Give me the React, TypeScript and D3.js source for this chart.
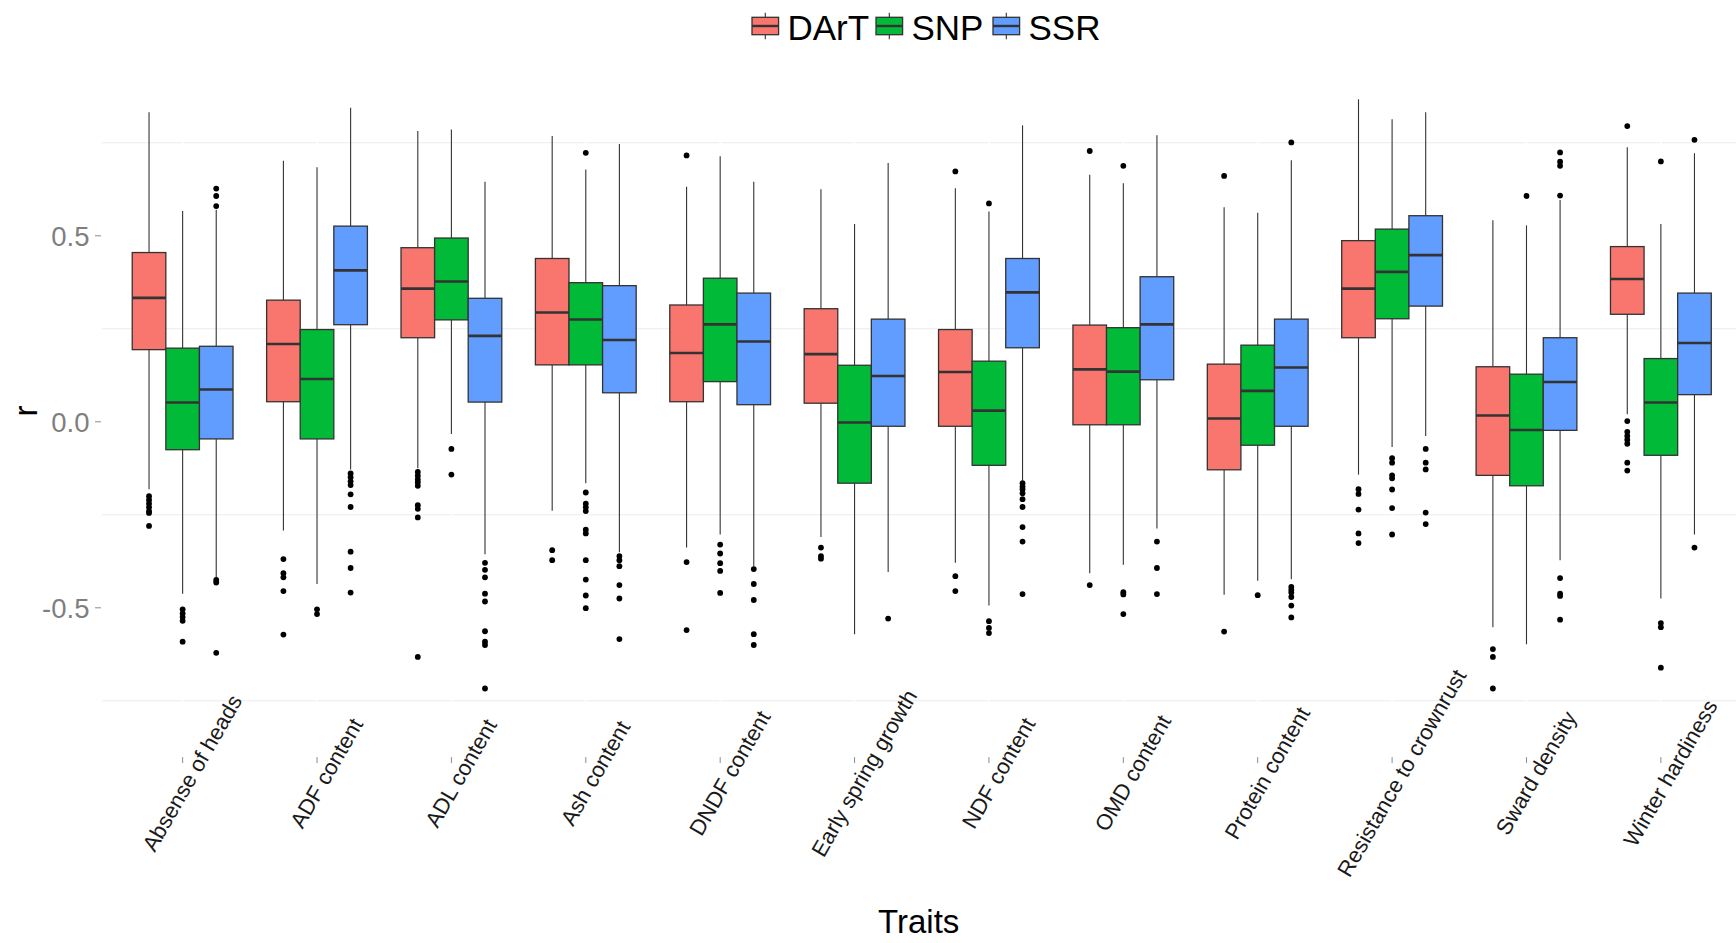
import React from 'react';
import * as d3 from 'd3';

const traits = [
  'Absense of heads', 'ADF content', 'ADL content', 'Ash content', 'DNDF content',
  'Early spring growth', 'NDF content', 'OMD content', 'Protein content',
  'Resistance to crownrust', 'Sward density', 'Winter hardiness',
];
const seriesNames = ['DArT', 'SNP', 'SSR'];
const seriesColors = ['#F8766D', '#00BA38', '#619CFF'];

// [lower whisker, Q1, median, Q3, upper whisker] per trait
const dartStats = [
  [-0.181, 0.194, 0.333, 0.455, 0.832],
  [-0.292, 0.054, 0.209, 0.327, 0.702],
  [-0.125, 0.226, 0.358, 0.468, 0.782],
  [-0.239, 0.153, 0.294, 0.439, 0.768],
  [-0.338, 0.054, 0.185, 0.314, 0.632],
  [-0.31, 0.05, 0.182, 0.304, 0.625],
  [-0.379, -0.012, 0.134, 0.248, 0.628],
  [-0.407, -0.008, 0.141, 0.26, 0.664],
  [-0.465, -0.129, 0.009, 0.155, 0.577],
  [-0.142, 0.226, 0.358, 0.487, 0.867],
  [-0.552, -0.144, 0.017, 0.148, 0.542],
  [0.02, 0.289, 0.384, 0.471, 0.738],
];
const snpStats = [
  [-0.462, -0.075, 0.052, 0.198, 0.567],
  [-0.436, -0.046, 0.115, 0.248, 0.684],
  [-0.033, 0.274, 0.377, 0.494, 0.786],
  [-0.165, 0.153, 0.275, 0.374, 0.678],
  [-0.303, 0.108, 0.262, 0.386, 0.714],
  [-0.571, -0.165, -0.002, 0.152, 0.532],
  [-0.494, -0.117, 0.03, 0.163, 0.565],
  [-0.384, -0.008, 0.135, 0.253, 0.641],
  [-0.427, -0.063, 0.083, 0.206, 0.562],
  [-0.068, 0.277, 0.403, 0.518, 0.813],
  [-0.598, -0.172, -0.022, 0.128, 0.528],
  [-0.475, -0.09, 0.052, 0.17, 0.532],
];
const ssrStats = [
  [-0.42, -0.046, 0.087, 0.203, 0.57],
  [-0.128, 0.261, 0.407, 0.526, 0.844],
  [-0.356, 0.053, 0.231, 0.332, 0.645],
  [-0.351, 0.078, 0.22, 0.366, 0.747],
  [-0.388, 0.046, 0.216, 0.346, 0.645],
  [-0.404, -0.012, 0.123, 0.276, 0.696],
  [-0.158, 0.199, 0.348, 0.439, 0.797],
  [-0.287, 0.113, 0.262, 0.39, 0.77],
  [-0.423, -0.012, 0.146, 0.276, 0.703],
  [-0.038, 0.311, 0.448, 0.554, 0.832],
  [-0.372, -0.023, 0.107, 0.226, 0.596],
  [-0.303, 0.073, 0.212, 0.346, 0.722],
];

const dartOutliers = [
  [-0.2, -0.21, -0.22, -0.23, -0.24, -0.245, -0.28],
  [-0.369, -0.407, -0.418, -0.455, -0.572],
  [-0.135, -0.145, -0.155, -0.163, -0.172, -0.224, -0.234, -0.257, -0.632],
  [-0.345, -0.372],
  [0.716, -0.377, -0.56],
  [-0.338, -0.361, -0.368],
  [0.673, -0.415, -0.455],
  [0.728, -0.439],
  [0.661, -0.564],
  [-0.181, -0.194, -0.236, -0.3, -0.326],
  [-0.611, -0.632, -0.717],
  [0.795, 0.002, -0.027, -0.038, -0.048, -0.059, -0.11, -0.131],
];
const snpOutliers = [
  [-0.504, -0.515, -0.525, -0.535, -0.591],
  [-0.504, -0.517],
  [-0.073, -0.142],
  [0.723, -0.19, -0.22, -0.23, -0.24, -0.29, -0.3, -0.372, -0.424, -0.467, -0.501],
  [-0.33, -0.354, -0.38, -0.401, -0.46],
  [],
  [0.587, -0.536, -0.554, -0.568],
  [0.688, -0.458, -0.464, -0.517],
  [-0.466],
  [-0.098, -0.11, -0.144, -0.152, -0.182, -0.232, -0.303],
  [0.607],
  [0.7, -0.541, -0.552, -0.661],
];
const ssrOutliers = [
  [0.627, 0.607, 0.58, -0.425, -0.432, -0.621],
  [-0.139, -0.149, -0.16, -0.17, -0.195, -0.229, -0.349, -0.393, -0.459],
  [-0.379, -0.398, -0.418, -0.462, -0.483, -0.563, -0.591, -0.6, -0.717],
  [-0.361, -0.372, -0.388, -0.439, -0.475, -0.584],
  [-0.396, -0.436, -0.479, -0.571, -0.6],
  [-0.529],
  [-0.165, -0.174, -0.181, -0.192, -0.208, -0.229, -0.283, -0.322, -0.463],
  [-0.322, -0.393, -0.463],
  [0.751, -0.444, -0.452, -0.459, -0.471, -0.494, -0.526],
  [-0.073, -0.11, -0.128, -0.244, -0.275],
  [0.724, 0.699, 0.688, 0.608, -0.42, -0.462, -0.468, -0.532],
  [0.758, -0.338],
];

const yTickValues = [-0.5, 0, 0.5];
const yTickLabels = ['-0.5', '0.0', '0.5'];
const yMinorValues = [-0.75, -0.25, 0.25, 0.75];

const allStats = [dartStats, snpStats, ssrStats];
const allOutliers = [dartOutliers, snpOutliers, ssrOutliers];

const FONT = '"Liberation Sans", Arial, Helvetica, sans-serif';

export default function App() {
  const W = 1736;
  const H = 943;
  const panel = { left: 102, right: 1741.5, top: 68.4, bottom: 756.6 };

  const x = d3.scalePoint<string>().domain(traits).range([panel.left, panel.right]).padding(0.6);
  const y = d3.scaleLinear().domain([-0.9, 0.95]).range([panel.bottom, panel.top]);
  const step = x.step();
  const dodge = d3.scaleBand<string>().domain(seriesNames).range([-0.375 * step, 0.375 * step]);
  const bw = dodge.bandwidth();

  const legendKeyX = [752, 876, 993];
  const stroke = '#333333';

  return (
    <svg
      width={W}
      height={H}
      style={{ position: 'absolute', left: 0, top: 0, background: '#fff' }}
      fontFamily={FONT}
    >
      <rect x={0} y={0} width={W} height={H} fill="#fff" />

      {/* minor horizontal gridlines */}
      {yMinorValues.map((v) => (
        <line key={'gm' + v} x1={panel.left} x2={panel.right} y1={y(v)} y2={y(v)} stroke="#EBEBEB" strokeWidth={1.1} />
      ))}
      {/* white major vertical gridlines */}
      {traits.map((t) => (
        <line key={'gv' + t} x1={x(t)} x2={x(t)} y1={panel.top} y2={panel.bottom} stroke="#ffffff" strokeWidth={1.5} />
      ))}

      {/* boxes */}
      {seriesNames.map((s, si) => (
        <g key={s}>
          {traits.map((t, ti) => {
            const [lo, q1, med, q3, hi] = allStats[si][ti];
            const cx = (x(t) as number) + (dodge(s) as number) + bw / 2;
            const x0 = cx - bw / 2;
            return (
              <g key={t}>
                <line x1={cx} x2={cx} y1={y(hi)} y2={y(q3)} stroke={stroke} strokeWidth={1.1} />
                <line x1={cx} x2={cx} y1={y(q1)} y2={y(lo)} stroke={stroke} strokeWidth={1.1} />
                <rect
                  x={x0}
                  y={y(q3)}
                  width={bw}
                  height={y(q1) - y(q3)}
                  fill={seriesColors[si]}
                  stroke={stroke}
                  strokeWidth={1.3}
                />
                <line x1={x0} x2={x0 + bw} y1={y(med)} y2={y(med)} stroke={stroke} strokeWidth={2.6} />
                {allOutliers[si][ti].map((o, oi) => (
                  <circle key={oi} cx={cx} cy={y(o)} r={2.9} fill="#000" />
                ))}
              </g>
            );
          })}
        </g>
      ))}

      {/* y axis ticks and labels */}
      {yTickValues.map((v, i) => (
        <g key={'yt' + v}>
          <line x1={panel.left - 7} x2={panel.left - 1} y1={y(v)} y2={y(v)} stroke="#8c8c8c" strokeWidth={1} />
          <text
            x={panel.left - 12.5}
            y={y(v)}
            dy="0.36em"
            textAnchor="end"
            fontSize={27.5}
            fill="#7F7F7F"
          >
            {yTickLabels[i]}
          </text>
        </g>
      ))}

      {/* x axis ticks and labels */}
      {traits.map((t) => {
        const tx = x(t) as number;
        return (
          <g key={'xt' + t}>
            <line x1={tx} x2={tx} y1={panel.bottom + 0.5} y2={panel.bottom + 6.5} stroke="#8c8c8c" strokeWidth={1} />
            <text
              transform={`translate(${tx + 9.5},${773}) rotate(-60)`}
              textAnchor="middle"
              dy="0.35em"
              fontSize={22}
              fill="#1a1a1a"
            >
              {t}
            </text>
          </g>
        );
      })}

      {/* axis titles */}
      <text x={918.7} y={933} textAnchor="middle" fontSize={33} fill="#000">
        Traits
      </text>
      <text transform={`translate(37,${411}) rotate(-90)`} textAnchor="middle" fontSize={33} fill="#000">
        r
      </text>

      {/* legend */}
      {seriesNames.map((s, i) => {
        const kx = legendKeyX[i];
        const kw = 26.6;
        const cx = kx + kw / 2;
        return (
          <g key={'lg' + s}>
            <line x1={cx} x2={cx} y1={12.7} y2={39.3} stroke={stroke} strokeWidth={1.1} />
            <rect x={kx} y={17.3} width={kw} height={17.4} fill={seriesColors[i]} stroke={stroke} strokeWidth={1.3} />
            <line x1={kx} x2={kx + kw} y1={26} y2={26} stroke={stroke} strokeWidth={2.4} />
            <text x={kx + 35.5} y={39.5} fontSize={35} fill="#000">
              {s}
            </text>
          </g>
        );
      })}
    </svg>
  );
}
